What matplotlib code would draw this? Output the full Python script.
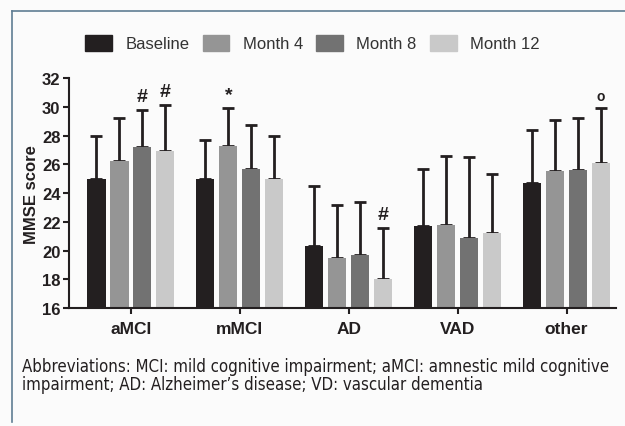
import matplotlib.pyplot as plt
from matplotlib.lines import Line2D
import numpy as np

plt.rcParams['font.family'] = ['Liberation Sans', 'DejaVu Sans']

groups = ['aMCI', 'mMCI', 'AD', 'VAD', 'other']
series = ['Baseline', 'Month 4', 'Month 8', 'Month 12']
colors = ['#231f20', '#959595', '#727272', '#c9c9c9']

# mean values and upper error bar tops
means = {
    'Baseline': [25.0, 25.0, 20.3, 21.7, 24.7],
    'Month 4':  [26.2, 27.3, 19.5, 21.8, 25.5],
    'Month 8':  [27.2, 25.7, 19.7, 20.9, 25.6],
    'Month 12': [26.9, 25.0, 18.0, 21.2, 26.1],
}
tops = {
    'Baseline': [28.0, 27.7, 24.5, 25.7, 28.4],
    'Month 4':  [29.2, 29.9, 23.2, 26.6, 29.1],
    'Month 8':  [29.8, 28.7, 23.4, 26.5, 29.2],
    'Month 12': [30.1, 28.0, 21.6, 25.3, 29.9],
}
# significance marks: (group index, series index, symbol)
marks = [(0, 2, '#'), (0, 3, '#'), (1, 1, '*'), (2, 3, '#'), (4, 3, 'o')]

fig = plt.figure(figsize=(6.25, 4.27), dpi=100)
fig.patch.set_facecolor('#fbfbfb')
ax = fig.add_axes([0.11, 0.276, 0.875, 0.539])
ax.set_facecolor('#fbfbfb')

x = np.arange(len(groups))
pitch = 0.211
width = 0.168
handles = []
for i, s in enumerate(series):
    xs = x + (i - 1.5) * pitch
    m = np.array(means[s])
    err = np.array(tops[s]) - m
    ax.bar(xs, m - 16, width, bottom=16, color=colors[i], zorder=2)
    ax.errorbar(xs, m, yerr=[np.zeros_like(err), err], fmt='none',
                ecolor='#231f20', elinewidth=2, capsize=4, capthick=2, zorder=1)
    handles.append(plt.Rectangle((0, 0), 1, 1, color=colors[i]))

for g, si, sym in marks:
    xs = g + (si - 1.5) * pitch
    y = tops[series[si]][g] + 0.35
    if sym == 'o':
        ax.text(xs, y, sym, ha='center', va='bottom', fontsize=10, fontweight='bold', color='#231f20')
    else:
        ax.text(xs, y, sym, ha='center', va='bottom', fontsize=14, fontweight='bold', color='#231f20')

ax.set_ylim(16, 32)
ax.set_xlim(-0.57, 4.45)
ax.set_yticks(range(16, 33, 2))
ax.set_xticks(x)
ax.set_xticklabels(groups, fontweight='bold', fontsize=12.5)
for t in ax.get_yticklabels():
    t.set_fontweight('bold')
    t.set_fontsize(12)
ax.tick_params(colors='#231f20', width=1.5, length=4, pad=2)
ax.tick_params(axis='x', pad=5)
ax.set_ylabel('MMSE score', fontweight='bold', fontsize=12, color='#231f20', labelpad=2)
for sp in ['top', 'right']:
    ax.spines[sp].set_visible(False)
for sp in ['left', 'bottom']:
    ax.spines[sp].set_linewidth(1.5)
    ax.spines[sp].set_color('#231f20')

fig.legend(handles, series, loc='center', bbox_to_anchor=(0.5, 0.897), ncol=4,
           frameon=False, fontsize=12, handlelength=1.6, handleheight=1.1,
           handletextpad=0.8, columnspacing=0.8, labelcolor='#333333')

# frame lines around the panel
fig.add_artist(Line2D([0.019, 1.0], [0.972, 0.972], color='#5f7d93', lw=1.2))
fig.add_artist(Line2D([0.019, 0.019], [0.01, 0.972], color='#5f7d93', lw=1.2))

cap = dict(fontsize=12.1, family='DejaVu Sans', stretch='condensed', color='#231f20', va='center')
fig.text(0.035, 0.14, "Abbreviations: MCI: mild cognitive impairment; aMCI: amnestic mild cognitive", **cap)
fig.text(0.035, 0.098, "impairment; AD: Alzheimer\u2019s disease; VD: vascular dementia", **cap)

fig.savefig('out.png', dpi=100, facecolor=fig.get_facecolor())
